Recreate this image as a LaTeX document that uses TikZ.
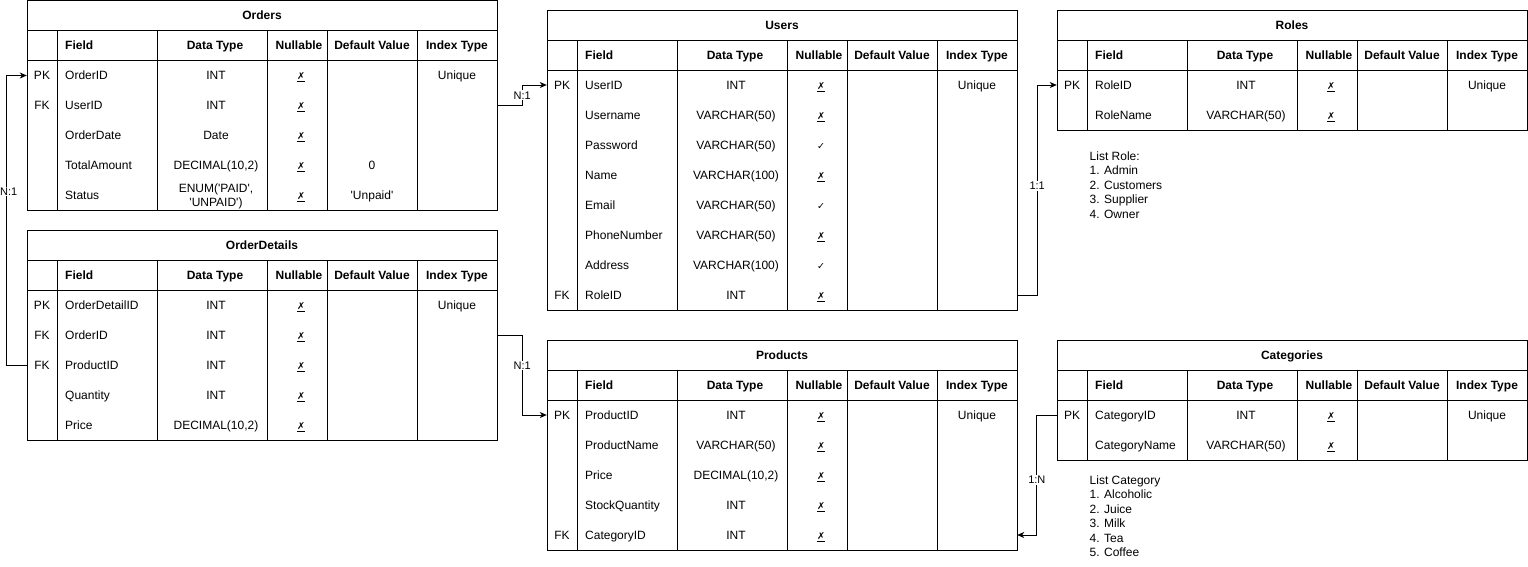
\documentclass[tikz,border=0pt]{standalone}
\usepackage{fontspec}
\usetikzlibrary{arrows.meta}
\newfontfamily\erdfont{Liberation Sans}
\newfontfamily\symfont{DejaVu Sans}
\newcommand\nx{{\symfont\fontsize{9.5}{10}\selectfont\underline{✗}}}
\newcommand\ny{{\symfont\fontsize{9.5}{10}\selectfont ✓}}
\newcommand\enumpaid{\begin{tabular}{@{}c@{}}ENUM('PAID',\\'UNPAID')\end{tabular}}
\tikzset{
  tblline/.style={line width=1pt},
  cell/.style={inner sep=0pt, text height=8.6pt, text depth=0pt},
  headcell/.style={cell, font=\erdfont\fontsize{12}{14.4}\selectfont\bfseries},
  rowbox/.style={minimum width=470pt, minimum height=30pt, inner sep=0pt},
  rel/.style={line width=1pt, -{Stealth[length=7pt,width=6pt,inset=2pt]}},
  card/.style={fill=white, inner sep=1pt, font=\erdfont\fontsize{11}{13}\selectfont},
  note/.style={align=left, inner sep=0pt, anchor=north west},
}
\newcommand\erdtable[6]{%
  \draw[tblline] (#2,#3) rectangle (#2+470,#3+60+30*#5);
  \draw[tblline] (#2,#3+30) -- (#2+470,#3+30) (#2,#3+60) -- (#2+470,#3+60);
  \foreach \dx in {30,130,240,300,390}
    \draw[tblline] (#2+\dx,#3+30) -- (#2+\dx,#3+60+30*#5);
  \node[headcell] (#1) at (#2+235,#3+15) {#4};
  \node[headcell, anchor=west] (#1-hf) at (#2+38,#3+45) {Field};
  \node[headcell] (#1-ht) at (#2+188,#3+45) {Data Type};
  \node[headcell] (#1-hn) at (#2+272,#3+45) {Nullable};
  \node[headcell] (#1-hd) at (#2+345,#3+45) {Default Value};
  \node[headcell] (#1-hi) at (#2+430,#3+45) {Index Type};
  \foreach \kk/\fld/\typ/\nul/\dfv/\idx [count=\rw] in {#6} {
    \node[rowbox] (#1-\rw) at (#2+235,#3+45+30*\rw) {};
    \node[cell] (#1-\rw-k) at (#2+15,#3+45+30*\rw) {\kk};
    \node[cell, anchor=west] (#1-\rw-f) at (#2+38,#3+45+30*\rw) {\fld};
    \node[cell] (#1-\rw-t) at (#2+189,#3+45+30*\rw) {\typ};
    \node[cell] (#1-\rw-n) at (#2+274,#3+45+30*\rw) {\nul};
    \node[cell] (#1-\rw-d) at (#2+345,#3+45+30*\rw) {\dfv};
    \node[cell] (#1-\rw-i) at (#2+430,#3+45+30*\rw) {\idx};
  }%
}
\begin{document}
\begin{tikzpicture}[x=1pt, y=-1pt, font=\erdfont\fontsize{12}{14.4}\selectfont]
\useasboundingbox (0,0) rectangle (1528,566);
\erdtable{ord}{27}{0.5}{Orders}{5}{
  {PK}/{OrderID}/{INT}/\nx/{}/{Unique},
  {FK}/{UserID}/{INT}/\nx/{}/{},
  {}/{OrderDate}/{Date}/\nx/{}/{},
  {}/{TotalAmount}/{DECIMAL(10,2)}/\nx/{0}/{},
  {}/{Status}/\enumpaid/\nx/{'Unpaid'}/{}}
\erdtable{usr}{547}{10}{Users}{8}{
  {PK}/{UserID}/{INT}/\nx/{}/{Unique},
  {}/{Username}/{VARCHAR(50)}/\nx/{}/{},
  {}/{Password}/{VARCHAR(50)}/\ny/{}/{},
  {}/{Name}/{VARCHAR(100)}/\nx/{}/{},
  {}/{Email}/{VARCHAR(50)}/\ny/{}/{},
  {}/{PhoneNumber}/{VARCHAR(50)}/\nx/{}/{},
  {}/{Address}/{VARCHAR(100)}/\ny/{}/{},
  {FK}/{RoleID}/{INT}/\nx/{}/{}}
\erdtable{rol}{1057}{10}{Roles}{2}{
  {PK}/{RoleID}/{INT}/\nx/{}/{Unique},
  {}/{RoleName}/{VARCHAR(50)}/\nx/{}/{}}
\erdtable{odt}{27}{230}{OrderDetails}{5}{
  {PK}/{OrderDetailID}/{INT}/\nx/{}/{Unique},
  {FK}/{OrderID}/{INT}/\nx/{}/{},
  {FK}/{ProductID}/{INT}/\nx/{}/{},
  {}/{Quantity}/{INT}/\nx/{}/{},
  {}/{Price}/{DECIMAL(10,2)}/\nx/{}/{}}
\erdtable{prd}{547}{340}{Products}{5}{
  {PK}/{ProductID}/{INT}/\nx/{}/{Unique},
  {}/{ProductName}/{VARCHAR(50)}/\nx/{}/{},
  {}/{Price}/{DECIMAL(10,2)}/\nx/{}/{},
  {}/{StockQuantity}/{INT}/\nx/{}/{},
  {FK}/{CategoryID}/{INT}/\nx/{}/{}}
\erdtable{cat}{1057}{340}{Categories}{2}{
  {PK}/{CategoryID}/{INT}/\nx/{}/{Unique},
  {}/{CategoryName}/{VARCHAR(50)}/\nx/{}/{}}
\node[note] (rolenote) at (1089.5,151.5) {List Role:\\1. Admin\\2. Customers\\3. Supplier\\4. Owner};
\node[note] (catnote) at (1089.5,475.5) {List Category\\1. Alcoholic\\2. Juice\\3. Milk\\4. Tea\\5. Coffee};
\draw[rel] (ord-2.east) -- ++(25,0) |- node[card,pos=0.25] (ordusr) {N:1} (usr-1.west);
\draw[rel] (odt-3.west) -- ++(-20,0) |- node[card,pos=0.3,xshift=2pt] (odtord) {N:1} (ord-1.west);
\draw[rel] (odt-2.east) -- ++(25,0) |- node[card,pos=0.19] (odtprd) {N:1} (prd-1.west);
\draw[rel] (usr-8.east) -- ++(20,0) |- node[card,pos=0.26] (usrrol) {1:1} (rol-1.west);
\draw[rel] (cat-1.west) -- ++(-20,0) |- node[card,pos=0.27] (catprd) {1:N} (prd-5.east);
\end{tikzpicture}
\end{document}
